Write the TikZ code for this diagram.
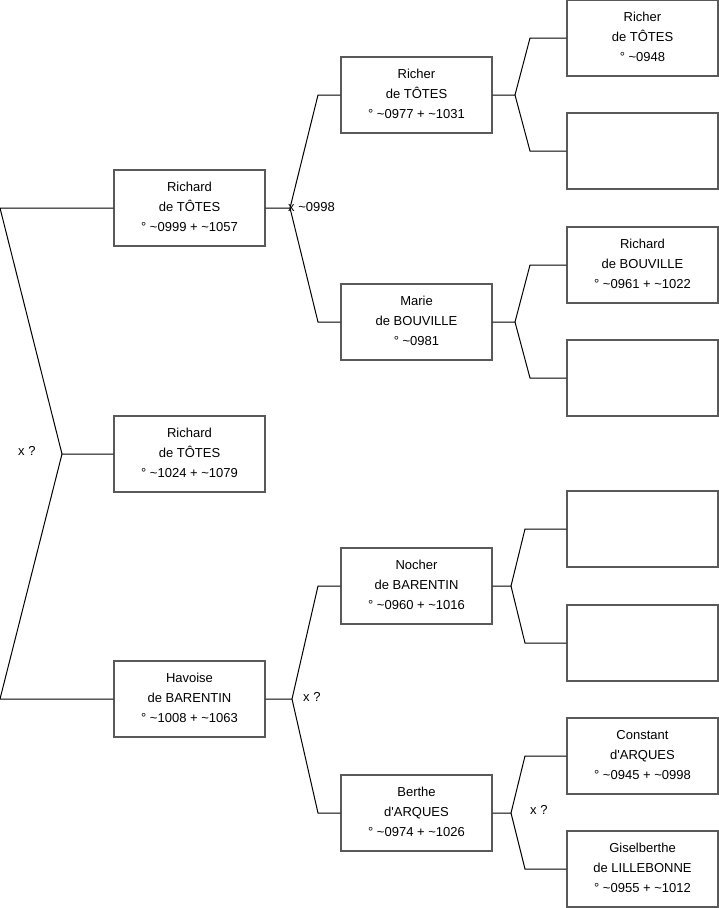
\documentclass[tikz,border=0pt]{standalone}
\usepackage{fontspec}
\setmainfont{Liberation Sans}
\newcommand{\apos}{\textquotesingle}
\begin{document}
\begin{tikzpicture}[x=1pt,y=-1pt,
  person/.style={draw=black!65,line width=1.2pt,minimum width=151pt,minimum height=76pt,inner sep=0pt,align=center,text depth=3pt,font=\fontsize{13}{20}\selectfont},
  conn/.style={draw=black,line width=1pt},
  lbl/.style={anchor=west,inner sep=0pt,font=\fontsize{13}{14}\selectfont}]
\useasboundingbox (0,0) rectangle (719,908);
% persons
\node[person] (A) at (189.5,208) {Richard\\de TÔTES\\° \textasciitilde0999 + \textasciitilde1057};
\node[person] (B) at (189.5,454) {Richard\\de TÔTES\\° \textasciitilde1024 + \textasciitilde1079};
\node[person] (C) at (189.5,699) {Havoise\\de BARENTIN\\° \textasciitilde1008 + \textasciitilde1063};
\node[person] (D) at (416.5,95) {Richer\\de TÔTES\\° \textasciitilde0977 + \textasciitilde1031};
\node[person] (E) at (416.5,322) {Marie\\de BOUVILLE\\° \textasciitilde0981};
\node[person] (F) at (416.5,586) {Nocher\\de BARENTIN\\° \textasciitilde0960 + \textasciitilde1016};
\node[person] (G) at (416.5,813) {Berthe\\d\apos ARQUES\\° \textasciitilde0974 + \textasciitilde1026};
\node[person] (R1) at (642.5,38) {Richer\\de TÔTES\\° \textasciitilde0948};
\node[person] (R2) at (642.5,151) {};
\node[person] (R3) at (642.5,265) {Richard\\de BOUVILLE\\° \textasciitilde0961 + \textasciitilde1022};
\node[person] (R4) at (642.5,378) {};
\node[person] (R5) at (642.5,529) {};
\node[person] (R6) at (642.5,643) {};
\node[person] (R7) at (642.5,756) {Constant\\d\apos ARQUES\\° \textasciitilde0945 + \textasciitilde0998};
\node[person] (R8) at (642.5,869) {Giselberthe\\de LILLEBONNE\\° \textasciitilde0955 + \textasciitilde1012};
% fork coordinates
\coordinate (L1) at (0,208);
\coordinate (L2) at (0,699);
\coordinate (Lf) at (62,454);
\coordinate (f1) at (290,208);
\coordinate (a1) at (318,95);
\coordinate (a2) at (318,322);
\coordinate (f2) at (292,699);
\coordinate (b1) at (318,586);
\coordinate (b2) at (318,813);
\coordinate (fD) at (515,95);
\coordinate (d1) at (530,38);
\coordinate (d2) at (530,151);
\coordinate (fE) at (515,322);
\coordinate (e1) at (530,265);
\coordinate (e2) at (530,378);
\coordinate (fF) at (511,586);
\coordinate (g1) at (525,529);
\coordinate (g2) at (525,643);
\coordinate (fG) at (511,813);
\coordinate (h1) at (525,756);
\coordinate (h2) at (525,869);
% connectors
\draw[conn] (A.west) -- (L1) -- (Lf) -- (B.west);
\draw[conn] (C.west) -- (L2) -- (Lf);
\draw[conn] (A.east) -- (f1) -- (a1) -- (D.west);
\draw[conn] (f1) -- (a2) -- (E.west);
\draw[conn] (C.east) -- (f2) -- (b1) -- (F.west);
\draw[conn] (f2) -- (b2) -- (G.west);
\draw[conn] (D.east) -- (fD) -- (d1) -- (R1.west);
\draw[conn] (fD) -- (d2) -- (R2.west);
\draw[conn] (E.east) -- (fE) -- (e1) -- (R3.west);
\draw[conn] (fE) -- (e2) -- (R4.west);
\draw[conn] (F.east) -- (fF) -- (g1) -- (R5.west);
\draw[conn] (fF) -- (g2) -- (R6.west);
\draw[conn] (G.east) -- (fG) -- (h1) -- (R7.west);
\draw[conn] (fG) -- (h2) -- (R8.west);
% labels
\node[lbl] (x1) at (18,451) {x ?};
\node[lbl] (x2) at (288,207) {x \textasciitilde0998};
\node[lbl] (x3) at (303,697) {x ?};
\node[lbl] (x4) at (530,810) {x ?};
\end{tikzpicture}
\end{document}
